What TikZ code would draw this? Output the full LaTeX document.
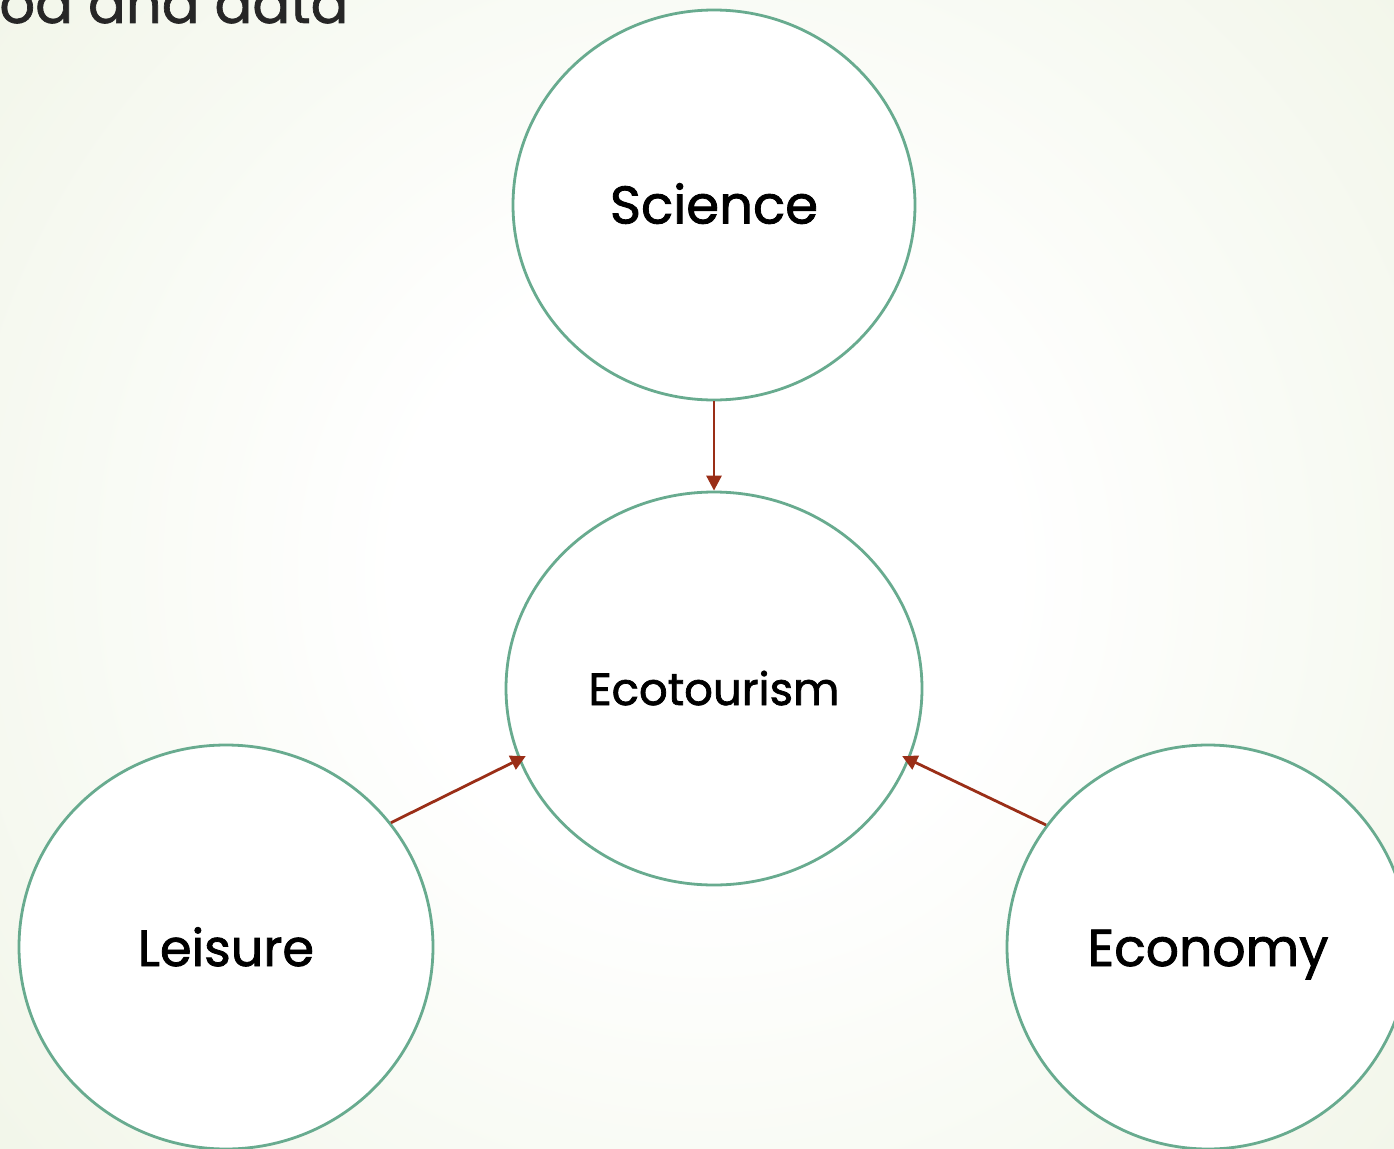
\documentclass[tikz,border=0pt]{standalone}
\usepackage{fontspec}
\setmainfont{Poppins}
\newfontfamily\lblfont[FakeBold=1.6]{Poppins}
\newfontfamily\ttlfont[FakeBold=1.2]{Poppins}
\usetikzlibrary{shapes.geometric,arrows.meta}
\definecolor{ringc}{HTML}{68AB8F}
\definecolor{arrc}{HTML}{9A2E17}
\definecolor{bgedge}{HTML}{DCE7C6}
\definecolor{titlec}{HTML}{262626}
\pgfdeclareradialshading{bgshade}{\pgfpoint{0bp}{0bp}}{color(0bp)=(white); color(8bp)=(white); color(50bp)=(bgedge)}
\tikzset{
  bubble/.style={ellipse, draw=ringc, line width=2.8pt, fill=white, inner sep=0pt,
    text depth=0pt, text=black},
  link/.style={draw=arrc, line width=2.8pt, -{Triangle[length=15pt,width=15pt]}}
}
\begin{document}
\begin{tikzpicture}[x=1pt,y=-1pt]
\useasboundingbox (0,0) rectangle (1394,1148);
\clip (0,0) rectangle (1394,1148);
\shade[shading=bgshade] (705-960,570-960) rectangle (705+960,570+960);
\node[anchor=base east, font=\ttlfont\fontsize{56}{66}\selectfont, text=titlec] (title) at (352,23) {od and data};
\node[bubble, minimum width=402pt, minimum height=390pt, text height=37pt, font=\lblfont\fontsize{53}{60}\selectfont] (sci) at (714,205) {Science};
\node[bubble, minimum width=416pt, minimum height=393pt, text height=33pt, font=\lblfont\fontsize{45}{52}\selectfont] (eco) at (714,688.5) {Ecotourism};
\node[bubble, minimum width=414pt, minimum height=404pt, text height=38pt, font=\lblfont\fontsize{51}{60}\selectfont] (lei) at (226,947) {Leisure};
\node[bubble, minimum width=402pt, minimum height=404pt, text height=38pt, font=\lblfont\fontsize{52}{60}\selectfont] (econ) at (1208,947) {Economy};
\draw[link] (sci.south) -- (eco.north);
\draw[link, shorten >=-8pt] (lei.37) -- (eco.200);
\draw[link, shorten >=-8pt] (econ.143) -- (eco.340);
\end{tikzpicture}
\end{document}
